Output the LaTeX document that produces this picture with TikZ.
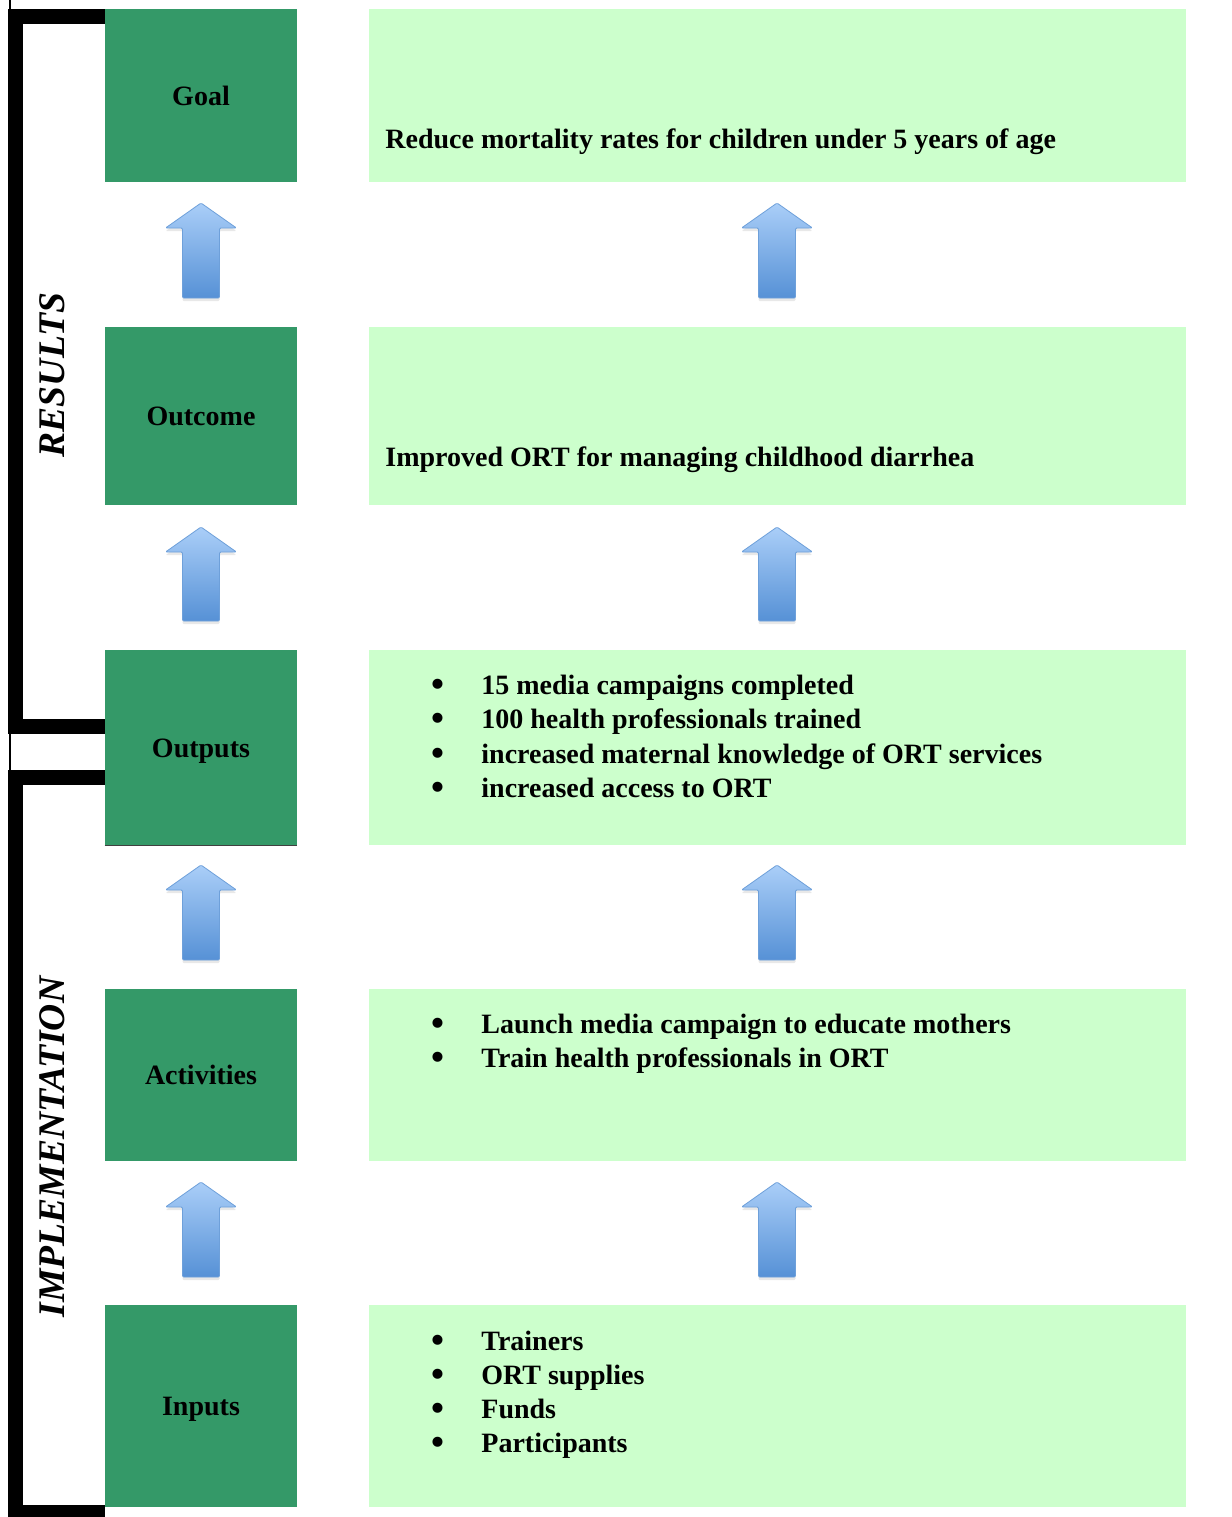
\documentclass[tikz,border=0pt]{standalone}
\usepackage{fontspec}
\setmainfont{Liberation Serif}
\usetikzlibrary{shadows}
\definecolor{darkgreen}{RGB}{52,153,104}
\definecolor{lightgreen}{RGB}{204,255,204}
\definecolor{arrtop}{RGB}{170,206,248}
\definecolor{arrbot}{RGB}{86,145,214}
\definecolor{arredge}{RGB}{110,160,218}
\tikzset{
  labelbox/.style={draw=none,fill=darkgreen,minimum width=96pt,inner sep=0pt,
    text height=9.6pt,text depth=0pt,
    font=\fontsize{14}{17}\selectfont\bfseries,text=black},
  contentbox/.style={draw=none,fill=lightgreen,minimum width=408.5pt,inner sep=0pt},
  bodytext/.style={anchor=base west,inner sep=0pt,font=\fontsize{14}{17}\selectfont\bfseries},
  bullettext/.style={anchor=base,inner sep=0pt,font=\fontsize{18.5}{19}\selectfont\bfseries},
  sidelabel/.style={rotate=90,inner sep=0pt,font=\fontsize{18.8}{21}\selectfont\bfseries\itshape},
  bracket/.style={line width=7.5pt,line join=miter},
  thinline/.style={line width=0.6pt},
  blockarrow/.style={top color=arrtop,bottom color=arrbot,draw=arredge,line width=0.4pt,
    rounded corners=0.6pt,
    drop shadow={opacity=0.18,shadow xshift=0pt,shadow yshift=-1.5pt}}
}
\newcommand{\uparr}[3]{% cx, tip y, bottom y
  \path[blockarrow] (#1-18.5,#3) -- (#1-18.5,#2+25) -- (#1-35.5,#2+25) -- (#1,#2)
    -- (#1+35.5,#2+25) -- (#1+18.5,#2+25) -- (#1+18.5,#3) -- cycle;}
\begin{document}
\begin{tikzpicture}[x=0.5pt,y=-0.5pt]
\useasboundingbox (0,0) rectangle (1232,1517);
\fill[white] (0,0) rectangle (1232,1517);

% brackets
\draw[bracket] (105,16.5) -- (15,16.5) -- (15,726.5) -- (105,726.5);
\draw[bracket] (105,777) -- (15,777) -- (15,1512) -- (105,1512);
\draw[thinline] (10,0) -- (10,9);
\draw[thinline] (10,734) -- (10,770);

% left label boxes
\node[labelbox,minimum height=86.5pt] (goal) at (201,95.5) {Goal};
\node[labelbox,minimum height=89pt] (outcome) at (201,416) {Outcome};
\node[labelbox,minimum height=97.5pt] (outputs) at (201,747.5) {Outputs};
\draw[line width=0.8pt,black!75] (outputs.south west) -- (outputs.south east);
\node[labelbox,minimum height=86pt] (activities) at (201,1074.5) {Activities};
\node[labelbox,minimum height=101pt] (inputs) at (201,1406) {Inputs};

% right content boxes
\node[contentbox,minimum height=86.5pt] (goalc) at (777.5,95.5) {};
\node[contentbox,minimum height=89pt] (outcomec) at (777.5,416) {};
\node[contentbox,minimum height=97.5pt] (outputsc) at (777.5,747.5) {};
\node[contentbox,minimum height=86pt] (activitiesc) at (777.5,1074.5) {};
\node[contentbox,minimum height=101pt] (inputsc) at (777.5,1406) {};

% side labels
\node[sidelabel] (results) at (52,375) {RESULTS};
\node[sidelabel] (implementation) at (52,1147) {IMPLEMENTATION};

% content texts
\node[bodytext] (goaltext) at (385,148) {Reduce mortality rates for children under 5 years of age};
\node[bodytext] (outcometext) at (385,466) {Improved ORT for managing childhood diarrhea};

\node[bullettext] (ob1) at (438,696) {•};
\node[bodytext] (ot1) at (481,694) {15 media campaigns completed};
\node[bullettext] (ob2) at (438,730) {•};
\node[bodytext] (ot2) at (481,728) {100 health professionals trained};
\node[bullettext] (ob3) at (438,765) {•};
\node[bodytext] (ot3) at (481,763) {increased maternal knowledge of ORT services};
\node[bullettext] (ob4) at (438,799) {•};
\node[bodytext] (ot4) at (481,797) {increased access to ORT};

\node[bullettext] (ab1) at (438,1035) {•};
\node[bodytext] (at1) at (481,1033) {Launch media campaign to educate mothers};
\node[bullettext] (ab2) at (438,1069) {•};
\node[bodytext] (at2) at (481,1067) {Train health professionals in ORT};

\node[bullettext] (ib1) at (438,1352) {•};
\node[bodytext] (it1) at (481,1350) {Trainers};
\node[bullettext] (ib2) at (438,1386) {•};
\node[bodytext] (it2) at (481,1384) {ORT supplies};
\node[bullettext] (ib3) at (438,1420) {•};
\node[bodytext] (it3) at (481,1418) {Funds};
\node[bullettext] (ib4) at (438,1454) {•};
\node[bodytext] (it4) at (481,1452) {Participants};

% block arrows
\uparr{201}{203}{298}
\uparr{777}{203}{298}
\uparr{201}{527}{621}
\uparr{777}{527}{621}
\uparr{201}{865}{960}
\uparr{777}{865}{960}
\uparr{201}{1182}{1277}
\uparr{777}{1182}{1277}
\end{tikzpicture}
\end{document}
